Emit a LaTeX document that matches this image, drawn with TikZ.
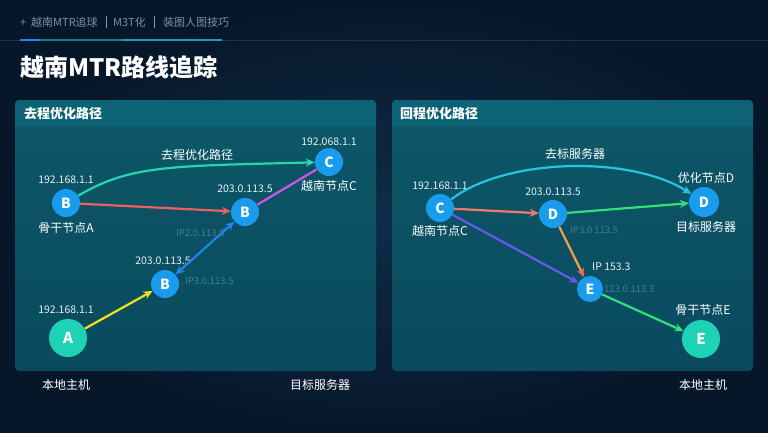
\documentclass[tikz,border=0pt]{standalone}
\usepackage{fontspec}
\setmainfont{Noto Sans CJK SC}
\usetikzlibrary{arrows.meta}
\definecolor{bgdark}{HTML}{07172A}
\definecolor{bgmid}{HTML}{0F2C48}
\definecolor{panelhead}{HTML}{0E6275}
\definecolor{paneltop}{HTML}{0D5868}
\definecolor{panelbot}{HTML}{0A4A5E}
\definecolor{nodeblue}{HTML}{1A9CEE}
\definecolor{nodeteal}{HTML}{1ED2B6}
\definecolor{tabgray}{HTML}{7C8FA6}
\definecolor{tabline}{HTML}{1A3450}
\definecolor{iptxt}{HTML}{E6F0F6}
\definecolor{faint}{HTML}{3F7F92}
\definecolor{ecurve}{HTML}{25D6B0}
\definecolor{ered}{HTML}{EC6060}
\definecolor{emag}{HTML}{D055E6}
\definecolor{eblue}{HTML}{2283EE}
\definecolor{eyellow}{HTML}{F2E21E}
\definecolor{ecyan}{HTML}{22C6E2}
\definecolor{eorange}{HTML}{F0786A}
\definecolor{egreen}{HTML}{34E07A}
\definecolor{epurple}{HTML}{6658F0}
\definecolor{eamber}{HTML}{F0A050}
\tikzset{
  nd/.style={circle, fill=nodeblue, text=white, font=\bfseries\fontsize{14}{14}\selectfont, minimum size=28pt, inner sep=0pt},
  bignd/.style={circle, fill=nodeteal, text=white, font=\bfseries\fontsize{15}{15}\selectfont, minimum size=38pt, inner sep=0pt},
  iplbl/.style={text=iptxt, font=\fontsize{10.5}{11}\selectfont, inner sep=0pt},
  namelbl/.style={text=white, font=\fontsize{12}{12}\selectfont, inner sep=0pt},
  fnt/.style={text=faint, font=\fontsize{9.5}{10}\selectfont, inner sep=0pt, anchor=west},
  edge/.style={line width=2.2pt, -{Stealth[length=9pt,width=8pt]}},
  tabtxt/.style={text=tabgray, font=\fontsize{11}{11}\selectfont, inner sep=0pt, anchor=west},
  panel/.style={rounded corners=4pt}
}
\begin{document}
\begin{tikzpicture}[x=1pt,y=-1pt]
\useasboundingbox (0,0) rectangle (768,432);
% background
\shade[inner color=bgmid, outer color=bgdark] (0,0) rectangle (768,432);
% tab bar
\node[tabtxt] (t1) at (20,22) {+\ \ 越南MTR追球};
\node[tabtxt, text=tabgray!50] (s1) at (105,22) {|};
\node[tabtxt] (t2) at (113,22) {M3T化};
\node[tabtxt, text=tabgray!50] (s2) at (153,22) {|};
\node[tabtxt] (t3) at (163,22) {装图人图技巧};
\draw[line width=0.8pt, color=tabline] (0,40) -- (768,40);
\draw[line width=1.6pt, color=bgmid!60!cyan] (20,40) -- (222,40);
\draw[line width=1.6pt, color=eblue] (20,40) -- (40,40);
\draw[line width=1.6pt, color=ecyan!80!black] (122,40) -- (222,40);
% title
\node[text=white, font=\bfseries\fontsize{24}{24}\selectfont, anchor=west, inner sep=0pt] (title) at (20,67) {越南MTR路线追踪};
% panels
\shade[panel, top color=paneltop, bottom color=panelbot] (15,100) rectangle (376,371);
\fill[panelhead, rounded corners=4pt] (15,100) rectangle (376,126);
\fill[panelhead] (15,115) rectangle (376,126);
\node[text=white, font=\bfseries\fontsize{13}{13}\selectfont, anchor=west, inner sep=0pt] (h1) at (24,114) {去程优化路径};
\shade[panel, top color=paneltop, bottom color=panelbot] (392,100) rectangle (753,371);
\fill[panelhead, rounded corners=4pt] (392,100) rectangle (753,126);
\fill[panelhead] (392,115) rectangle (753,126);
\node[text=white, font=\bfseries\fontsize{13}{13}\selectfont, anchor=west, inner sep=0pt] (h2) at (400,114) {回程优化路径};

% ===== left panel =====
\node[nd] (lb1) at (66,203) {B};
\node[nd] (lb2) at (245,212) {B};
\node[nd] (lc) at (329,162) {C};
\node[nd] (lb3) at (165,284) {B};
\node[bignd] (la) at (68,338) {A};
\node[iplbl] (lb1ip) at (66,180) {192.168.1.1};
\node[namelbl] (lb1n) at (66,228) {骨干节点A};
\node[iplbl] (lb2ip) at (245,189) {203.0.113.5};
\node[iplbl] (lcip) at (329,142) {192.068.1.1};
\node[namelbl] (lcn) at (329,186) {越南节点C};
\node[iplbl] (lb3ip) at (163,261) {203.0.113.5};
\node[iplbl] (laip) at (66,310) {192.168.1.1};
\node[namelbl] (lan) at (66,385) {本地主机};
\node[namelbl] (ltn) at (320,385) {目标服务器};
\node[fnt] (lf1) at (176,233) {IP2.0.113.5};
\node[fnt] (lf2) at (185,281) {IP3.0.113.5};
\node[text=white, font=\fontsize{12}{12}\selectfont, inner sep=0pt] (lcurvelbl) at (197,155) {去程优化路径};

\draw[edge, ecurve] (lb1) .. controls (130,165) and (170,166) .. (lc);
\draw[edge, ered] (lb1) -- (lb2);
\draw[line width=2.2pt, emag] (lb2) -- (lc);
\draw[edge, eblue, {Stealth[length=9pt,width=8pt]}-{Stealth[length=9pt,width=8pt]}] (lb3) -- (lb2);
\draw[edge, eyellow] (la) -- (lb3);

% ===== right panel =====
\node[nd] (rc) at (440,208) {C};
\node[nd] (rd1) at (553,214) {D};
\node[nd, minimum size=30pt] (rd2) at (704,202) {D};
\node[nd, minimum size=26pt] (re1) at (590,289) {E};
\node[bignd] (re2) at (701,339) {E};
\node[iplbl] (rcip) at (440,186) {192.168.1.1};
\node[namelbl] (rcn) at (440,231) {越南节点C};
\node[iplbl] (rd1ip) at (553,192) {203.0.113.5};
\node[namelbl] (rd2top) at (706,178) {优化节点D};
\node[namelbl] (rd2n) at (706,227) {目标服务器};
\node[iplbl, anchor=west] (re1ip) at (592,267) {IP 153.3};
\node[fnt] (rf1) at (570,230) {IP3.0 113.5};
\node[fnt] (rf2) at (604,289) {123.0.113.3};
\node[namelbl] (re2top) at (703,310) {骨干节点E};
\node[namelbl] (re2n) at (703,385) {本地主机};
\node[text=white, font=\fontsize{12}{12}\selectfont, inner sep=0pt] (rcurvelbl) at (575,154) {去标服务器};

\draw[edge, ecyan] (rc) .. controls (505,158) and (630,155) .. (rd2);
\draw[edge, eorange] (rc) -- (rd1);
\draw[edge, egreen] (rd1) -- (rd2);
\draw[edge, epurple] (rc) -- (re1);
\draw[edge, eamber, -{Stealth[length=9pt,width=8pt,fill=ered,color=ered]}] (rd1) -- (re1);
\draw[edge, egreen] (re1) -- (re2);
\end{tikzpicture}
\end{document}
